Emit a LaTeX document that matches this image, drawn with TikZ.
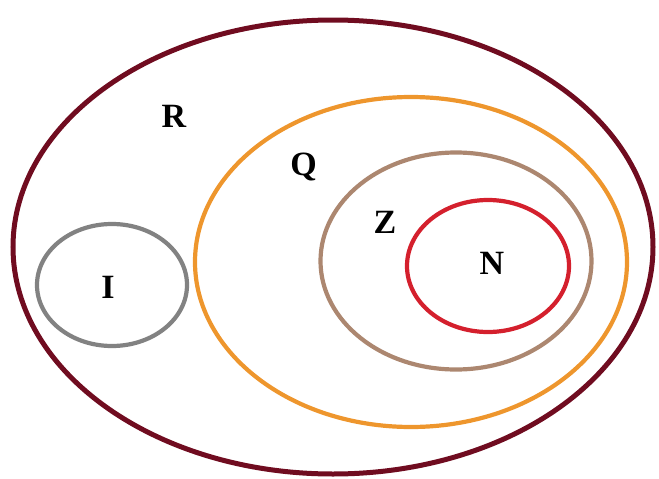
\documentclass[tikz,border=0pt]{standalone}
\usepackage{fontspec}
\setmainfont{Liberation Serif}
\usetikzlibrary{shapes.geometric}
\definecolor{cR}{RGB}{112,12,32}
\definecolor{cQ}{RGB}{238,150,45}
\definecolor{cZ}{RGB}{172,135,112}
\definecolor{cN}{RGB}{212,32,45}
\definecolor{cI}{RGB}{130,130,130}
\tikzset{
  setring/.style={ellipse, draw, inner sep=0pt, line width=4.2pt},
  setlabel/.style={font=\fontsize{34}{36}\selectfont\bfseries, inner sep=0pt, anchor=base}
}
\begin{document}
\begin{tikzpicture}[x=1pt,y=-1pt]
\useasboundingbox (0,0) rectangle (659,479);
\node[setring, draw=cR, line width=5pt, minimum width=640pt, minimum height=454pt] (R) at (333,247) {};
\node[setring, draw=cQ, minimum width=432pt, minimum height=330pt] (Q) at (411,262) {};
\node[setring, draw=cZ, minimum width=271pt, minimum height=217pt] (Z) at (456,261) {};
\node[setring, draw=cN, minimum width=162pt, minimum height=132pt] (N) at (488,266) {};
\node[setring, draw=cI, minimum width=150pt, minimum height=122pt] (I) at (112,285) {};
\node[setlabel] (lR) at (174,127) {R};
\node[setlabel] (lQ) at (303.5,175) {Q};
\node[setlabel] (lZ) at (385,233) {Z};
\node[setlabel] (lN) at (492,274) {N};
\node[setlabel] (lI) at (108,298) {I};
\end{tikzpicture}
\end{document}
